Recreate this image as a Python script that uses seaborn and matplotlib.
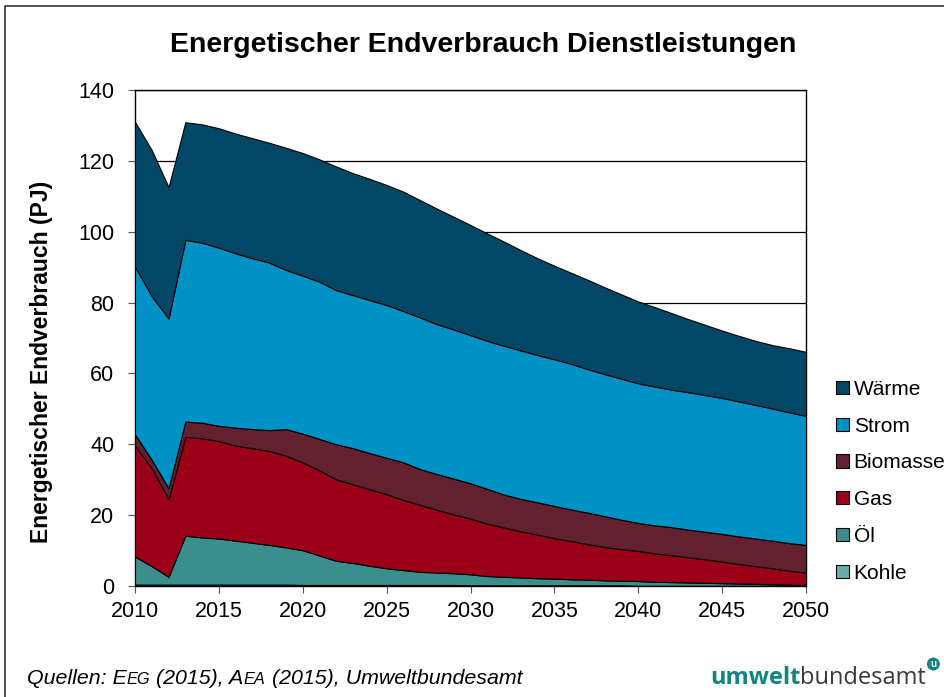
import numpy as np
import matplotlib.pyplot as plt
import seaborn as sns
from matplotlib.lines import Line2D
from matplotlib.patches import Patch

# Werte in PJ (2010-2050)
jahre = np.arange(2010, 2051)

kohle = [0.4, 0.4, 0.4, 0.4, 0.4, 0.4, 0.4, 0.4, 0.4, 0.4,
         0.3, 0.3, 0.3, 0.3, 0.3, 0.3, 0.3, 0.3, 0.3, 0.3,
         0.2, 0.2, 0.2, 0.2, 0.2, 0.2, 0.2, 0.2, 0.2, 0.2,
         0.1, 0.1, 0.1, 0.1, 0.1, 0.1, 0.1, 0.1, 0.1, 0.1, 0.1]
oel = [7.9, 5.2, 2.2, 13.8, 13.3, 13.0, 12.4, 11.8, 11.2, 10.5,
       9.8, 8.3, 6.8, 6.2, 5.4, 4.7, 4.2, 3.7, 3.5, 3.3,
       3.1, 2.6, 2.4, 2.2, 2.0, 1.9, 1.7, 1.6, 1.4, 1.3,
       1.3, 1.1, 1.0, 0.9, 0.8, 0.7, 0.6, 0.5, 0.4, 0.3, 0.2]
gas = [31.3, 27.6, 21.9, 27.9, 28.0, 27.5, 26.8, 26.7, 26.5, 25.9,
       24.8, 24.0, 23.0, 22.2, 21.6, 20.9, 19.8, 18.9, 17.7, 16.6,
       15.7, 14.8, 13.9, 13.0, 12.3, 11.4, 10.8, 10.0, 9.4, 8.9,
       8.5, 8.0, 7.6, 7.1, 6.6, 6.1, 5.5, 5.0, 4.5, 3.9, 3.5]
biomasse = [3.2, 2.4, 3.1, 4.3, 4.4, 4.3, 5.1, 5.4, 5.9, 7.5,
            8.1, 8.9, 9.9, 10.2, 10.2, 10.3, 10.6, 10.1, 10.1, 10.1,
            10.0, 9.8, 9.3, 9.2, 9.1, 9.1, 8.9, 8.9, 8.7, 8.3,
            7.9, 7.9, 7.9, 7.8, 7.8, 7.8, 7.8, 7.8, 7.8, 7.8, 7.8]
strom = [47.3, 46.2, 47.9, 51.3, 50.8, 50.3, 49.2, 48.2, 47.3, 44.9,
         44.6, 44.4, 43.5, 43.2, 43.2, 43.1, 42.7, 42.8, 42.3, 42.1,
         41.8, 41.8, 42.0, 41.9, 41.6, 41.4, 41.1, 40.5, 40.1, 39.8,
         39.4, 39.2, 38.8, 38.8, 38.6, 38.4, 38.1, 37.7, 37.3, 36.9, 36.4]
waerme = [40.9, 41.2, 37.1, 33.2, 33.4, 33.7, 33.8, 33.9, 33.8, 34.5,
          34.6, 34.5, 34.9, 34.4, 34.2, 33.9, 33.7, 33.1, 32.6, 31.8,
          31.1, 30.3, 29.4, 28.3, 27.3, 26.4, 25.7, 25.2, 24.5, 23.8,
          23.1, 22.4, 21.6, 20.6, 19.8, 19.0, 18.5, 18.1, 17.9, 18.1, 18.1]

namen = ["Kohle", "Öl", "Gas", "Biomasse", "Strom", "Wärme"]
farben = ["#6aadaa", "#3a8e8b", "#9c0019", "#63212f", "#0092c5", "#024866"]

sns.set_theme(style="ticks")
plt.rcParams["font.family"] = ["Liberation Sans", "DejaVu Sans"]
plt.rcParams["text.color"] = "black"
plt.rcParams["axes.labelcolor"] = "black"

W, H = 944, 697
fig = plt.figure(figsize=(W / 100, H / 100), dpi=100)
ax = fig.add_axes([135 / W, 1 - 586 / H, (806 - 135) / W, (586 - 90) / H])

ax.stackplot(jahre, kohle, oel, gas, biomasse, strom, waerme,
             colors=farben, edgecolor="black", linewidth=0.8, zorder=3)

ax.set_xlim(2010, 2050)
ax.set_ylim(0, 140)
ax.set_xticks(range(2010, 2051, 5))
ax.set_yticks(range(0, 141, 20))
ax.yaxis.grid(True, color="black", linewidth=0.9)
ax.set_axisbelow(True)
ax.tick_params(labelsize=15.5, length=5, width=0.8, color="#555555", labelcolor="black")
ax.tick_params(axis="y", pad=10)
ax.tick_params(axis="x", pad=6)
for s in ax.spines.values():
    s.set_color("black")
    s.set_linewidth(1.0)

fig.text(483 / W, 1 - 45 / H, "Energetischer Endverbrauch Dienstleistungen",
         ha="center", va="center", fontsize=20.5, fontweight="bold")
fig.text(42 / W, 1 - 362 / H, "Energetischer Endverbrauch (PJ)", rotation=90,
         ha="center", va="center", fontsize=16.5, fontweight="bold")

handles = [Patch(facecolor=c, edgecolor="black", linewidth=0.8, label=n)
           for n, c in zip(namen[::-1], farben[::-1])]
fig.legend(handles=handles, loc="upper left", bbox_to_anchor=(836 / W, 1 - 380 / H),
           frameon=False, fontsize=15, handlelength=0.6, handleheight=0.6,
           handletextpad=0.25, labelspacing=0.85, borderaxespad=0, borderpad=0)

# Quellenangabe mit Kapitälchen
y_base = H - 684
teile = [("Quellen: E", 15.4), ("EG", 11.8), (" (2015), A", 15.4), ("EA", 11.8),
         (" (2015), Umweltbundesamt", 15.4)]
vorher = fig.text(27 / W, y_base / H, teile[0][0], fontsize=teile[0][1],
                  style="italic", va="baseline", ha="left")
for txt, fs in teile[1:]:
    vorher = fig.add_artist(
        plt.Annotation(txt, xy=(1, y_base), xycoords=(vorher, "figure pixels"),
                       fontsize=fs, style="italic", va="baseline", ha="left"))

# Logo
teal = "#12857f"
logo1 = fig.text(710 / W, y_base / H, "umwelt", fontsize=17, fontweight="bold",
                 color=teal, family=["Open Sans", "DejaVu Sans"], va="baseline")
logo2 = fig.add_artist(plt.Annotation("bundesamt", xy=(1, y_base), xycoords=(logo1, "figure pixels"),
                                      fontsize=17, color="#3a3a3a", family=["Open Sans", "DejaVu Sans"],
                                      va="baseline", ha="left"))
fig.add_artist(plt.Annotation("u", xy=(1, H - 664), xycoords=(logo2, "figure pixels"),
                              xytext=(3, 0), textcoords="offset points",
                              fontsize=7, fontweight="bold", color="white", va="center", ha="left",
                              bbox=dict(boxstyle="circle,pad=0.15", fc=teal, ec="none")))

# Rahmen links und oben
fig.add_artist(Line2D([5 / W, 5 / W, 1.0], [0.0, 1 - 6 / H, 1 - 6 / H],
                      transform=fig.transFigure, color="#333333", linewidth=1.2))

fig.savefig("out.png", dpi=100)
